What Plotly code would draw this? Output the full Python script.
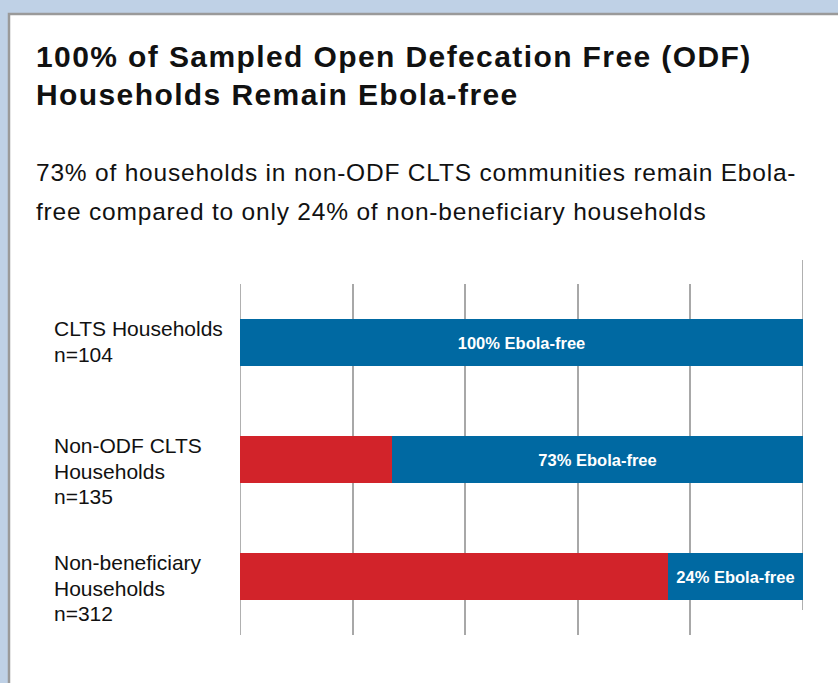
import plotly.graph_objects as go

# ---- data ----
categories = ["CLTS Households", "Non-ODF CLTS Households", "Non-beneficiary Households"]
label_lines = [["CLTS Households", "n=104"],
               ["Non-ODF CLTS", "Households", "n=135"],
               ["Non-beneficiary", "Households", "n=312"]]
ebola_free_pct = [100, 73, 24]
not_free_pct = [0, 27, 76]
free_text = ["100% Ebola-free", "73% Ebola-free", "24% Ebola-free"]
grid_ticks = [0, 20, 40, 60, 80]
scale_max = 100

title_lines = ["100% of Sampled Open Defecation Free (ODF)",
               "Households Remain Ebola-free"]
subtitle_lines = ["73% of households in non-ODF CLTS communities remain Ebola-",
                  "free compared to only 24% of non-beneficiary households"]

# ---- layout geometry ----
W, H = 838, 683
ML, MR, MT, MB = 240, 35, 284, 48
PW, PH = W - ML - MR, H - MT - MB


def px2x(px):
    return (px - ML) / PW


def py2y(py):
    return (MT + PH - py) / PH


RED = "#d2232a"
BLUE = "#0069a2"
GRID = "#a8a8a8"
FONT = "Liberation Sans, Arial, sans-serif"

fig = go.Figure()
fig.add_trace(go.Bar(
    y=categories, x=not_free_pct, orientation="h",
    marker=dict(color=RED, line=dict(width=0)),
    width=0.41, hoverinfo="skip", name="Not Ebola-free",
))
fig.add_trace(go.Bar(
    y=categories, x=ebola_free_pct, orientation="h",
    marker=dict(color=BLUE, line=dict(width=0)),
    width=0.41, text=free_text, textposition="inside",
    insidetextanchor="middle",
    textfont=dict(color="white", size=16.5, family=FONT, weight="bold"),
    hoverinfo="skip", name="Ebola-free",
))

shapes = [
    # white panel with grey border
    dict(type="rect", xref="paper", yref="paper",
         x0=px2x(9), x1=px2x(880), y0=py2y(720), y1=py2y(14),
         fillcolor="white", line=dict(color="#9a9a9a", width=2.5),
         layer="below"),
    # first grid line (axis minimum)
    dict(type="line", xref="x", yref="paper",
         x0=grid_ticks[0], x1=grid_ticks[0], y0=0, y1=1,
         line=dict(color=GRID, width=1.8), layer="below"),
    # right-most grid line (offset upward in the original)
    dict(type="line", xref="x", yref="paper",
         x0=scale_max, x1=scale_max, y0=py2y(610), y1=py2y(260),
         line=dict(color=GRID, width=1.8), layer="below"),
]

annotations = []
title_y = [57, 95]
for t, yy in zip(title_lines, title_y):
    annotations.append(dict(
        text='<b><span style="letter-spacing:1.4px">' + t + "</span></b>",
        xref="paper", yref="paper",
        x=px2x(34), y=py2y(yy), xanchor="left", yanchor="middle",
        showarrow=False, align="left",
        font=dict(family=FONT, size=30, color="#111111")))
sub_y = [172, 211]
for t, yy in zip(subtitle_lines, sub_y):
    annotations.append(dict(
        text='<span style="letter-spacing:0.8px">' + t + "</span>",
        xref="paper", yref="paper",
        x=px2x(34), y=py2y(yy), xanchor="left", yanchor="middle",
        showarrow=False, align="left",
        font=dict(family=FONT, size=24.5, color="#111111")))
for cat, lines in zip(categories, label_lines):
    for i, ln in enumerate(lines):
        annotations.append(dict(
            text=ln, xref="paper", yref="y", x=px2x(52), y=cat,
            xanchor="left", yanchor="middle", yshift=14 - 25.6 * i,
            showarrow=False, align="left",
            font=dict(family=FONT, size=21, color="#111111")))

fig.update_layout(
    width=W, height=H,
    margin=dict(l=ML, r=MR, t=MT, b=MB, pad=0),
    paper_bgcolor="#bfd1e6", plot_bgcolor="rgba(0,0,0,0)",
    barmode="stack", bargap=0.59, showlegend=False,
    xaxis=dict(range=[0, scale_max], tickvals=grid_ticks, showticklabels=False,
               showgrid=True, gridcolor=GRID, gridwidth=1.8,
               zeroline=False, showline=False, fixedrange=True),
    yaxis=dict(categoryorder="array", categoryarray=categories,
               autorange="reversed", showticklabels=False, showgrid=False,
               zeroline=False, showline=False, fixedrange=True),
    shapes=shapes, annotations=annotations,
    uniformtext=dict(mode="show", minsize=10),
)

fig.write_html("out.html", config={"displayModeBar": False},
               post_script="document.body.style.margin='0';")
